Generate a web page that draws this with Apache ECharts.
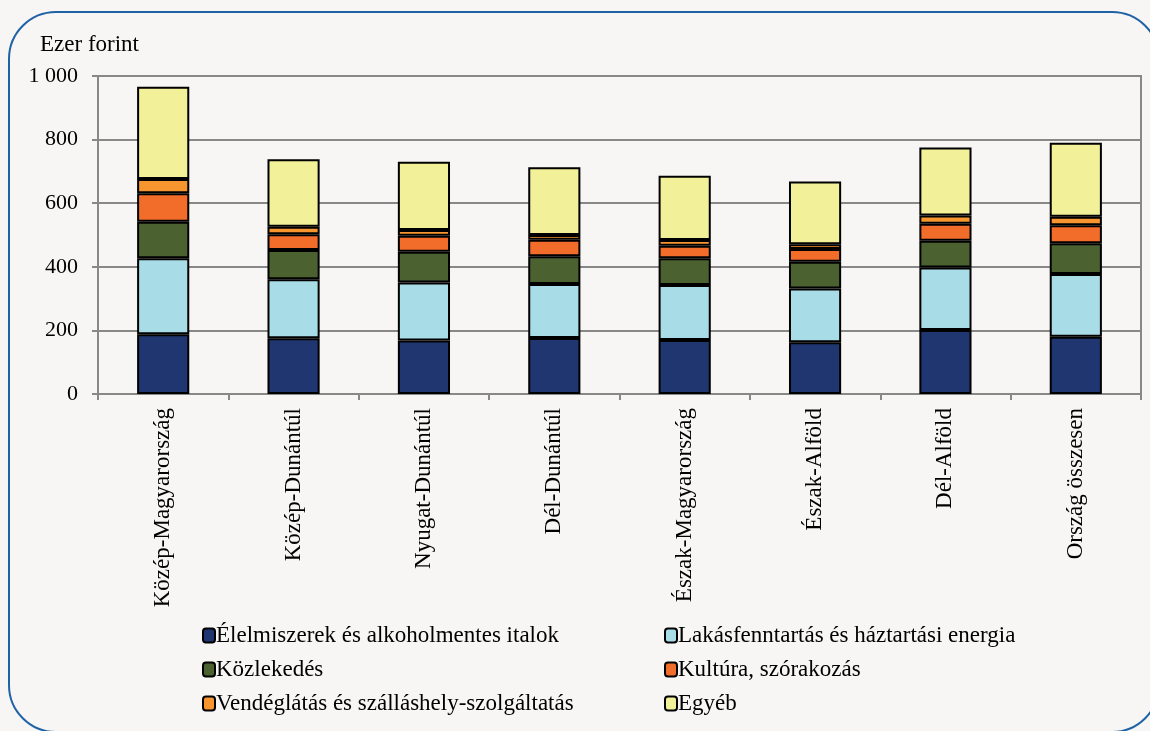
<!DOCTYPE html>
<html>
<head>
<meta charset="utf-8">
<script src="https://cdn.jsdelivr.net/npm/echarts@6/dist/echarts.min.js"></script>
<style>
  html, body { margin: 0; padding: 0; background: #f7f6f4; }
  #frame { position: absolute; left: 8px; top: 11px; width: 1152px; height: 722px;
           border: 2px solid #1f62a6; border-radius: 48px; box-sizing: border-box; }
  #chart { position: absolute; left: 0; top: 0; width: 1150px; height: 731px; }
</style>
</head>
<body>
<div id="frame"></div>
<div id="chart"></div>
<script>
const categories = ['Közép-Magyarország', 'Közép-Dunántúl', 'Nyugat-Dunántúl', 'Dél-Dunántúl',
  'Észak-Magyarország', 'Észak-Alföld', 'Dél-Alföld', 'Ország összesen'];
const seriesNames = ['Élelmiszerek és alkoholmentes italok', 'Lakásfenntartás és háztartási energia',
  'Közlekedés', 'Kultúra, szórakozás', 'Vendéglátás és szálláshely-szolgáltatás', 'Egyéb'];
const elelmiszer = [188, 175, 168, 176, 170, 163, 201, 180];
const lakas      = [239, 186, 183, 170, 173, 169, 197, 197];
const kozlekedes = [115, 92, 96, 87, 84, 84, 84, 97];
const kultura    = [89, 49, 51, 52, 39, 40, 53, 57];
const vendeglatas= [45, 24, 18, 15, 18, 15, 26, 26];
const egyeb      = [290, 212, 214, 213, 202, 197, 214, 233];
const yTicks = [0, 200, 400, 600, 800, 1000];
const colors = ['#1f3670', '#a8dde8', '#4b6130', '#f26d2a', '#f7962f', '#f2f099'];

const allData = [elelmiszer, lakas, kozlekedes, kultura, vendeglatas, egyeb];
const FONT = 'Liberation Serif';
const FS = 23;

const chart = echarts.init(document.getElementById('chart'));
chart.setOption({
  backgroundColor: 'transparent',
  animation: false,
  textStyle: { fontFamily: FONT, color: '#000' },
  graphic: [{ type: 'text', left: 40, top: 33, style: { text: 'Ezer forint', fontFamily: FONT, fontSize: FS, fill: '#000' } }],
  grid: { left: 98, right: 9, top: 76, bottom: 337, show: true, borderColor: '#888', borderWidth: 2, backgroundColor: 'transparent' },
  legend: [
    { orient: 'vertical', left: 197, top: 619, itemGap: 11, itemWidth: 12, itemHeight: 14,
      data: [seriesNames[0], seriesNames[2], seriesNames[4]],
      textStyle: { fontFamily: FONT, fontSize: FS, lineHeight: 22, color: '#000', padding: [0, 0, 0, -4] } },
    { orient: 'vertical', left: 659, top: 619, itemGap: 11, itemWidth: 12, itemHeight: 14,
      data: [seriesNames[1], seriesNames[3], seriesNames[5]],
      textStyle: { fontFamily: FONT, fontSize: FS, lineHeight: 22, color: '#000', padding: [0, 0, 0, -4] } }
  ],
  xAxis: {
    type: 'category', data: categories,
    axisLine: { lineStyle: { color: '#888', width: 2 } },
    axisTick: { show: true, length: 6, lineStyle: { color: '#888', width: 2 } },
    axisLabel: { rotate: 90, margin: 14, fontFamily: FONT, fontSize: FS, color: '#000' }
  },
  yAxis: {
    type: 'value', min: 0, max: 1000, interval: 200,
    axisLine: { show: true, lineStyle: { color: '#888', width: 2 } },
    axisTick: { show: true, length: 6, lineStyle: { color: '#888', width: 2 } },
    splitLine: { lineStyle: { color: '#888', width: 2 } },
    axisLabel: { margin: 20, fontFamily: FONT, fontSize: 22, color: '#000',
      formatter: v => yTicks.includes(v) ? String(v).replace(/\B(?=(\d{3})+(?!\d))/g, ' ') : '' }
  },
  series: allData.map((d, i) => ({
    name: seriesNames[i], type: 'bar', stack: 'total', data: d, barWidth: '40%',
    itemStyle: { color: colors[i], borderColor: '#000', borderWidth: 2 }
  }))
});
</script>
</body>
</html>
